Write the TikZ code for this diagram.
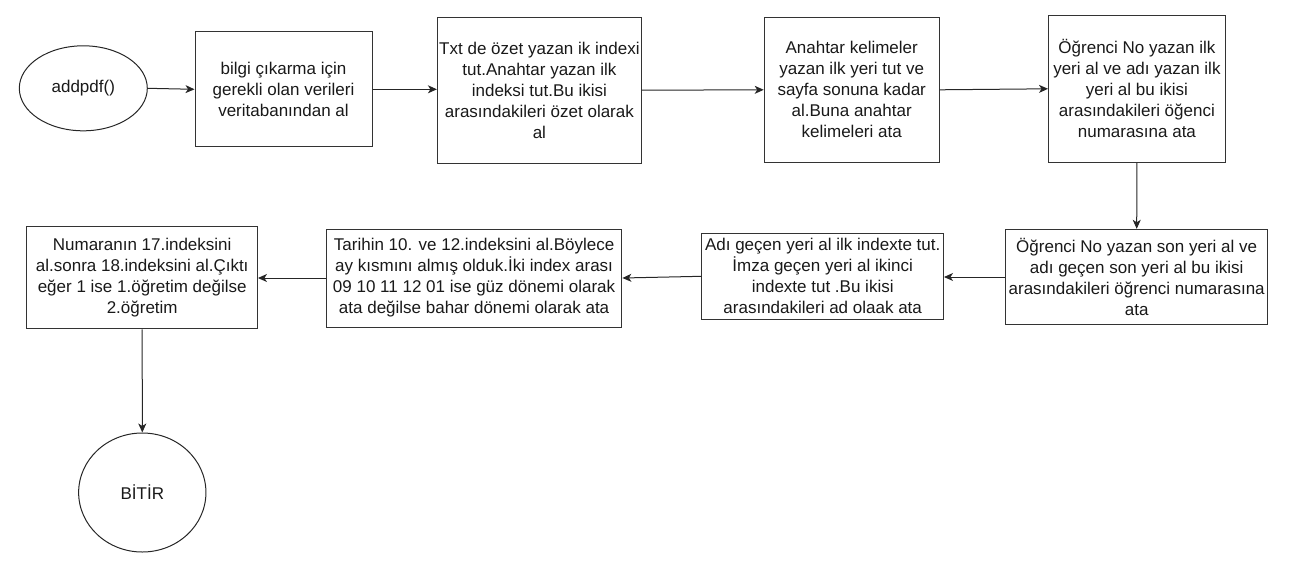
\documentclass[tikz,border=0pt]{standalone}
\usepackage{fontspec}
\setmainfont{Liberation Sans}
\usetikzlibrary{shapes.geometric,arrows.meta}
\tikzset{
  box/.style={draw=black!80, line width=1pt, rectangle, inner sep=0pt, align=center,
    font=\fontsize{17}{21}\selectfont, text=black!90},
  oval/.style={draw=black!85, line width=1pt, ellipse, inner sep=0pt, align=center,
    font=\fontsize{17}{21}\selectfont, text=black!90},
  conn/.style={draw=black!85, line width=1pt, -{Stealth[length=9pt,width=8pt,inset=2.5pt]}}
}
\begin{document}
\begin{tikzpicture}[x=1pt,y=-1pt]
\useasboundingbox (0,0) rectangle (1301,560);
\node[oval, minimum width=128, minimum height=85] (start) at (83.3,88.3) {addpdf()};
\node[box, minimum width=177, minimum height=115.3] (b1) at (283.5,89.3)
  {bilgi çıkarma için\\gerekli olan verileri\\veritabanından al};
\node[box, minimum width=204, minimum height=145.7] (b2) at (539.4,90.2)
  {Txt de özet yazan ik indexi\\tut.Anahtar yazan ilk\\indeksi tut.Bu ikisi\\arasındakileri özet olarak\\al};
\node[box, minimum width=175, minimum height=145] (b3) at (851.7,89.8)
  {Anahtar kelimeler\\yazan ilk yeri tut ve\\sayfa sonuna kadar\\al.Buna anahtar\\kelimeleri ata};
\node[box, minimum width=176.8, minimum height=147] (b4) at (1136.9,88.8)
  {Öğrenci No yazan ilk\\yeri al ve adı yazan ilk\\yeri al bu ikisi\\arasındakileri öğenci\\numarasına ata};
\node[box, minimum width=262, minimum height=95.4] (b5) at (1136.7,277)
  {Öğrenci No yazan son yeri al ve\\adı geçen son yeri al bu ikisi\\arasındakileri öğrenci numarasına\\ata};
\node[box, minimum width=241.6, minimum height=86] (b6) at (822.7,276.3)
  {Adı geçen yeri al ilk indexte tut.\\İmza geçen yeri al ikinci\\indexte tut .Bu ikisi\\arasındakileri ad olaak ata};
\node[box, minimum width=295.6, minimum height=98] (b7) at (474.1,278)
  {Tarihin 10. ve 12.indeksini al.Böylece\\ay kısmını almış olduk.İki index arası\\09 10 11 12 01 ise güz dönemi olarak\\ata değilse bahar dönemi olarak ata};
\node[box, minimum width=230.5, minimum height=102.3] (b8) at (142.2,277.8)
  {Numaranın 17.indeksini\\al.sonra 18.indeksini al.Çıktı\\eğer 1 ise 1.öğretim değilse\\2.öğretim};
\node[oval, minimum width=127.3, minimum height=119] (end) at (142.3,492.5) {BİTİR};
\draw[conn] (start.east) -- (b1.west);
\draw[conn] (b1.east) -- (b2.west |- b1.east);
\draw[conn] (b2.east) -- (b3.west);
\draw[conn] (b3.east) -- (b4.west);
\draw[conn] (b4.south) -- (b5.north);
\draw[conn] (b5.west) -- (b6.east |- b5.west);
\draw[conn] (b6.west) -- (b7.east);
\draw[conn] (b7.west) -- (b8.east |- b7.west);
\draw[conn] (b8.south) -- (end.north);
\end{tikzpicture}
\end{document}
